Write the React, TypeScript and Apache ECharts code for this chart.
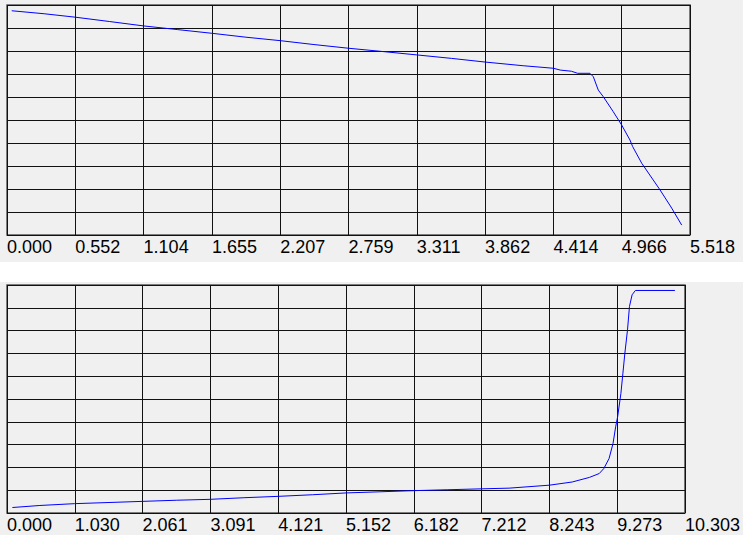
import React, { useEffect, useRef } from "react";
import * as echarts from "echarts";

const topTickLabels = ["0.000", "0.552", "1.104", "1.655", "2.207", "2.759", "3.311", "3.862", "4.414", "4.966", "5.518"];
const bottomTickLabels = ["0.000", "1.030", "2.061", "3.091", "4.121", "5.152", "6.182", "7.212", "8.243", "9.273", "10.303"];

const topX = [0.038, 0.3, 0.552, 0.83, 1.104, 1.38, 1.655, 1.93, 2.207, 2.48, 2.759, 3.03, 3.311, 3.59, 3.862, 4.17, 4.414, 4.47, 4.56, 4.61, 4.71, 4.737, 4.777, 4.818, 4.898, 4.966, 5.033, 5.055, 5.128, 5.221, 5.276, 5.37, 5.451];
const topY = [9.75, 9.62, 9.47, 9.28, 9.09, 8.93, 8.77, 8.6, 8.45, 8.28, 8.12, 7.98, 7.83, 7.68, 7.52, 7.36, 7.25, 7.17, 7.12, 7.03, 7.03, 6.88, 6.3, 6.01, 5.36, 4.78, 4.13, 3.84, 3.12, 2.39, 1.96, 1.17, 0.43];

const bottomX = [0.082, 0.5, 1.03, 1.55, 2.061, 2.58, 3.091, 3.6, 4.121, 4.64, 5.152, 5.67, 6.182, 6.7, 7.212, 7.63, 8.243, 8.59, 8.85, 9.0, 9.07, 9.15, 9.21, 9.25, 9.28, 9.33, 9.36, 9.39, 9.43, 9.46, 9.5, 9.55, 10.15];
const bottomY = [0.24, 0.33, 0.41, 0.46, 0.51, 0.56, 0.6, 0.67, 0.73, 0.8, 0.88, 0.93, 0.98, 1.02, 1.06, 1.09, 1.22, 1.36, 1.56, 1.73, 1.95, 2.39, 3.05, 3.78, 4.22, 5.25, 6.13, 7.01, 8.03, 9.06, 9.57, 9.76, 9.76];

const topMax = 5.518;
const bottomMax = 10.303;

export default function App() {
  const ref = useRef<HTMLDivElement>(null);

  useEffect(() => {
    if (!ref.current) return;
    const chart = echarts.init(ref.current, undefined, { renderer: "svg" });
    const gridLine = { show: true, lineStyle: { color: "#111", width: 1 } };
    const mkX = (gi: number, max: number, labels: string[]) => ({
      type: "value",
      gridIndex: gi,
      min: 0,
      max: max,
      interval: max / 10,
      axisLine: { show: false },
      axisTick: { show: false },
      splitLine: gridLine,
      axisLabel: {
        show: true,
        align: "left",
        margin: 3,
        fontSize: 18,
        color: "#000",
        fontFamily: "Liberation Sans, Arial, sans-serif",
        formatter: (v: number) => labels[Math.round(v / (max / 10))] ?? "",
      },
    });
    const mkY = (gi: number) => ({
      type: "value",
      gridIndex: gi,
      min: 0,
      max: 10,
      interval: 1,
      axisLine: { show: false },
      axisTick: { show: false },
      axisLabel: { show: false },
      splitLine: gridLine,
    });
    chart.setOption({
      animation: false,
      grid: [
        { left: 7, top: 5, width: 683, height: 230, show: true, borderColor: "#555", borderWidth: 1.5, backgroundColor: "transparent" },
        { left: 7, top: 285, width: 679, height: 228, show: true, borderColor: "#555", borderWidth: 1.5, backgroundColor: "transparent" },
      ],
      xAxis: [mkX(0, topMax, topTickLabels), mkX(1, bottomMax, bottomTickLabels)],
      yAxis: [mkY(0), mkY(1)],
      series: [
        {
          type: "line",
          xAxisIndex: 0,
          yAxisIndex: 0,
          data: topX.map((x, i) => [x, topY[i]]),
          showSymbol: false,
          lineStyle: { color: "#0000ff", width: 1 },
          itemStyle: { color: "#0000ff" },
        },
        {
          type: "line",
          xAxisIndex: 1,
          yAxisIndex: 1,
          data: bottomX.map((x, i) => [x, bottomY[i]]),
          showSymbol: false,
          lineStyle: { color: "#0000ff", width: 1 },
          itemStyle: { color: "#0000ff" },
        },
      ],
    });
    return () => chart.dispose();
  }, []);

  return (
    <div style={{ position: "fixed", left: 0, top: 0, width: 743, height: 535, background: "#ffffff" }}>
      <div style={{ position: "absolute", left: 0, top: 0, width: 743, height: 262, background: "#f0f0f0" }} />
      <div style={{ position: "absolute", left: 0, top: 282, width: 743, height: 253, background: "#f0f0f0" }} />
      <div ref={ref} style={{ position: "absolute", left: 0, top: 0, width: 743, height: 535 }} />
    </div>
  );
}
